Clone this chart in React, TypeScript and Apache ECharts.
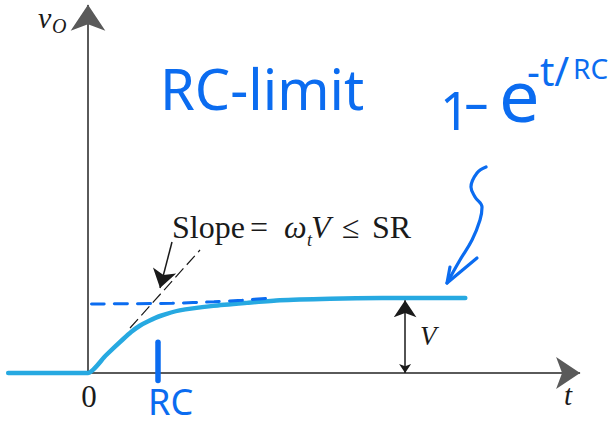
import React, { useEffect, useRef } from "react";
import * as echarts from "echarts";

// Time axis in units of RC, output in units of V (final step height).
const T_MIN = -1.2;
const T_MAX = 7.2;
const V_MIN = -0.6;
const V_MAX = 4.9;

// Output voltage v_O(t): zero before the step, slew-limited rise, then exponential settle.
const responseCurve: [number, number][] = [
  [-1.14, 0],
  [0, 0],
  [0.25, 0.23],
  [0.5, 0.45],
  [0.62, 0.55],
  [0.74, 0.63],
  [0.86, 0.69],
  [1.03, 0.76],
  [1.31, 0.835],
  [1.79, 0.895],
  [2.27, 0.935],
  [2.74, 0.97],
  [3.46, 0.99],
  [4.2, 1.0],
  [5.39, 1.0],
];

// Initial-slope tangent (Slope = ω_t V ≤ SR)
const slopeTangent: [number, number][] = [
  [0.6, 0.6],
  [1.6, 1.64],
];

// Hand-drawn dashed level line near the final value
const handLevel: [number, number][] = [
  [0.05, 0.92],
  [1.2, 0.93],
  [1.8, 0.95],
  [2.2, 0.97],
  [2.6, 1.0],
];

// Axes (with arrowheads)
const tAxisEnd: [number, number][] = [[0, 0], [7.03, 0]];
const vAxisEnd: [number, number][] = [[0, 0], [0, 4.91]];

// Step height marker V
const stepHeight: [number, number][] = [[4.53, 0], [4.53, 0.97]];

// Pointer from the slope label to the tangent
const slopePointer: [number, number][] = [[1.2, 1.747], [1.029, 1.133]];

// RC tick on the time axis
const rcTick: [number, number][] = [[1.0, 0.41], [1.0, -0.1]];

// Hand-drawn squiggle arrow pointing at the settling curve
const squiggle: [number, number][] = [
  [5.686, 2.747],
  [5.557, 2.667],
  [5.471, 2.48],
  [5.529, 2.347],
  [5.629, 2.213],
  [5.6, 2.04],
  [5.486, 1.773],
  [5.314, 1.507],
  [5.129, 1.2],
];
const squiggleHead: [number, number][] = [
  [5.171, 1.413],
  [5.129, 1.2],
  [5.557, 1.533],
];

const CURVE = "#27a9e1";
const PEN = "#0b6cf0";
const INK = "#1a1a1a";
const SERIF = "'Liberation Serif', 'Times New Roman', serif";
const HAND = "'Noto Sans', sans-serif";

export default function App() {
  const ref = useRef<HTMLDivElement>(null);

  useEffect(() => {
    if (!ref.current) return;
    const chart = echarts.init(ref.current, null, { renderer: "svg" });

    const serifText = (
      text: string,
      x: number,
      y: number,
      size: number,
      italic = false,
      align = "left"
    ) => ({
      type: "text",
      x,
      y,
      z: 20,
      style: {
        text,
        fill: INK,
        fontFamily: SERIF,
        fontSize: size,
        fontStyle: italic ? "italic" : "normal",
        align,
        verticalAlign: "middle",
      },
    });

    const handText = (
      text: string,
      x: number,
      y: number,
      size: number,
      scaleX = 1
    ) => ({
      type: "text",
      x,
      y,
      z: 20,
      scaleX,
      style: {
        text,
        fill: PEN,
        fontFamily: HAND,
        fontSize: size,
        align: "left",
        verticalAlign: "middle",
      },
    });

    chart.setOption({
      animation: false,
      backgroundColor: "#ffffff",
      grid: { left: 4, right: 24, top: 5.5, bottom: 7 },
      xAxis: { type: "value", min: T_MIN, max: T_MAX, show: false },
      yAxis: { type: "value", min: V_MIN, max: V_MAX, show: false },
      series: [
        {
          type: "lines",
          coordinateSystem: "cartesian2d",
          z: 2,
          symbol: ["none", "arrow"],
          symbolSize: [14, 24],
          lineStyle: { color: "#5a5a5a", width: 2, opacity: 1, curveness: 0 },
          data: [{ coords: tAxisEnd }],
        },
        {
          type: "lines",
          coordinateSystem: "cartesian2d",
          z: 2,
          symbol: ["none", "arrow"],
          symbolSize: [16, 26],
          lineStyle: { color: "#5a5a5a", width: 2, opacity: 1, curveness: 0 },
          data: [{ coords: vAxisEnd }],
        },
        {
          type: "line",
          z: 5,
          data: responseCurve,
          showSymbol: false,
          smooth: 0.2,
          lineStyle: { color: CURVE, width: 4.5, cap: "round", join: "round" },
        },
        {
          type: "line",
          z: 6,
          data: slopeTangent,
          showSymbol: false,
          lineStyle: { color: INK, width: 1.2, type: [12, 5] },
        },
        {
          type: "line",
          z: 7,
          data: handLevel,
          showSymbol: false,
          smooth: 0.3,
          lineStyle: { color: PEN, width: 3, type: [13, 10], cap: "round" },
        },
        {
          type: "lines",
          coordinateSystem: "cartesian2d",
          z: 6,
          symbol: ["arrow", "arrow"],
          symbolSize: [9, 17],
          lineStyle: { color: INK, width: 1.5, opacity: 1, curveness: 0 },
          data: [{ coords: stepHeight }],
        },
        {
          type: "lines",
          coordinateSystem: "cartesian2d",
          z: 6,
          symbol: ["none", "arrow"],
          symbolSize: [8, 18],
          lineStyle: { color: INK, width: 1.5, opacity: 1, curveness: 0 },
          data: [{ coords: slopePointer }],
        },
        {
          type: "line",
          z: 8,
          data: rcTick,
          showSymbol: false,
          lineStyle: { color: PEN, width: 5.5, cap: "round" },
        },
        {
          type: "line",
          z: 8,
          data: squiggle,
          showSymbol: false,
          smooth: 0.4,
          lineStyle: { color: PEN, width: 3.2, cap: "round", join: "round" },
        },
        {
          type: "line",
          z: 8,
          data: squiggleHead,
          showSymbol: false,
          lineStyle: { color: PEN, width: 3.2, cap: "round", join: "round" },
        },
      ],
      graphic: [
        serifText("v", 38, 17, 30, true),
        serifText("O", 52, 26, 20, true),
        serifText("0", 89, 396.5, 31, false, "center"),
        serifText("t", 564, 395, 29, true),
        serifText("V", 420, 336, 27, true),
        serifText("Slope", 172, 227, 32),
        serifText("=", 250, 227, 32),
        serifText("ω", 284, 227, 32, true),
        serifText("t", 307, 240, 18, true),
        serifText("V", 311, 227, 32, true),
        serifText("≤", 342, 227, 32),
        serifText("SR", 372, 227, 32),
        handText("RC-limit", 160, 88, 56),
        handText("1", 440, 109, 52),
        handText("-", 463, 101, 52, 1.6),
        handText("e", 499, 94, 72),
        handText("-t/", 527, 70, 40),
        handText("RC", 573, 68, 28),
        handText("RC", 148, 401, 36),
      ],
    });

    return () => chart.dispose();
  }, []);

  return (
    <div
      ref={ref}
      style={{ position: "absolute", left: 0, top: 0, width: 616, height: 425 }}
    />
  );
}
